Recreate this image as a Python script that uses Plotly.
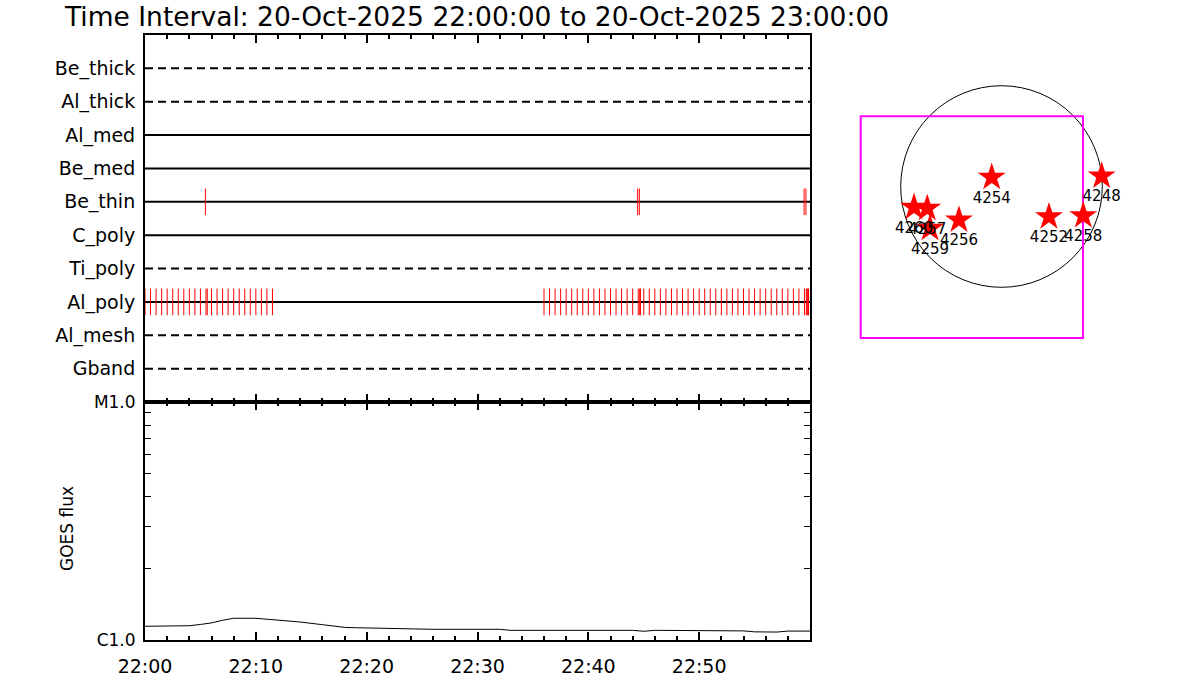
import plotly.graph_objects as go

# ---------------------------------------------------------------------------
# Data
# ---------------------------------------------------------------------------
DAY = "2025-10-20"
T_START = "22:00:00"
T_END = "23:00:00"

ROWS = ["Be_thick", "Al_thick", "Al_med", "Be_med", "Be_thin",
        "C_poly", "Ti_poly", "Al_poly", "Al_mesh", "Gband"]

# detector events per row (HH:MM:SS)
BE_THIN_EVENTS = ["22:05:27", "22:44:27", "22:44:36", "22:59:28", "22:59:38"]

AL_POLY_EVENTS = [
    "22:00:00", "22:00:30", "22:01:00", "22:01:30", "22:02:00", "22:02:30",
    "22:03:00", "22:03:30", "22:04:00", "22:04:30", "22:05:00", "22:05:30",
    "22:05:37", "22:06:00", "22:06:30", "22:07:00", "22:07:30", "22:08:00",
    "22:08:30", "22:09:00", "22:09:30", "22:10:00", "22:10:30", "22:11:00",
    "22:11:30",
    "22:36:00", "22:36:30", "22:37:00", "22:37:30", "22:38:00", "22:38:30",
    "22:39:00", "22:39:30", "22:40:00", "22:40:30", "22:41:00", "22:41:30",
    "22:42:00", "22:42:30", "22:43:00", "22:43:30", "22:44:00", "22:44:30",
    "22:44:38", "22:44:42", "22:45:00", "22:45:30", "22:46:00", "22:46:30",
    "22:47:00", "22:47:30", "22:48:00", "22:48:30", "22:49:00", "22:49:30",
    "22:50:00", "22:50:30", "22:51:00", "22:51:30", "22:52:00", "22:52:30",
    "22:53:00", "22:53:30", "22:54:00", "22:54:30", "22:55:00", "22:55:30",
    "22:56:00", "22:56:30", "22:57:00", "22:57:30", "22:58:00", "22:58:30",
    "22:59:00", "22:59:30", "22:59:40", "22:59:44", "22:59:48", "22:59:52",
]

EVENTS = {"Be_thin": BE_THIN_EVENTS, "Al_poly": AL_POLY_EVENTS}

# GOES long channel flux (W m^-2)
GOES_TIME = ["22:00", "22:03", "22:04", "22:05", "22:06", "22:07", "22:08",
             "22:10", "22:12", "22:14", "22:16", "22:18", "22:19", "22:21",
             "22:22", "22:25", "22:26", "22:32", "22:33", "22:44", "22:45",
             "22:46", "22:49", "22:50", "22:54", "22:55", "22:57", "22:58",
             "23:00"]
GOES_FLUX = [1.142e-6, 1.142e-6, 1.148e-6, 1.162e-6, 1.18e-6, 1.21e-6,
             1.234e-6, 1.234e-6, 1.215e-6, 1.19e-6, 1.16e-6, 1.13e-6,
             1.126e-6, 1.122e-6, 1.12e-6, 1.112e-6, 1.109e-6, 1.109e-6,
             1.098e-6, 1.098e-6, 1.088e-6, 1.098e-6, 1.098e-6, 1.092e-6,
             1.092e-6, 1.082e-6, 1.08e-6, 1.09e-6, 1.09e-6]

GOES_TICKS = [1e-6, 1e-5]
GOES_TICK_TEXT = ["C1.0", "M1.0"]
TIME_TICKS = ["22:00", "22:10", "22:20", "22:30", "22:40", "22:50"]

# active regions (arcsec from disk centre)
AR_NUM = ["4254", "4248", "4260", "4257", "4259", "4256", "4252", "4258"]
AR_X = [-93, 954, -833, -707, -681, -405, 452, 779]
AR_Y = [88, 100, -198, -208, -398, -319, -288, -278]
SUN_RADIUS = 960
FOV_X = [-1341, 776]
FOV_Y = [-1443, 669]

# ---------------------------------------------------------------------------
# Style
# ---------------------------------------------------------------------------
DASHED = {"Be_thick", "Al_thick", "Ti_poly", "Al_mesh", "Gband"}
FONT = "DejaVu Sans"
W, H = 1200, 700


def ts(hms):
    return f"{DAY} {hms}"


def px_x(p):
    return p / W


def px_y(p):
    return 1 - p / H


row_y = {name: len(ROWS) - i for i, name in enumerate(ROWS)}

fig = go.Figure()

# row base lines
for name in ROWS:
    fig.add_trace(go.Scatter(
        x=[ts(T_START), ts(T_END)], y=[row_y[name]] * 2,
        mode="lines", xaxis="x", yaxis="y", showlegend=False,
        line=dict(color="black", width=2,
                  dash="8px,5px" if name in DASHED else "solid"),
    ))

# event ticks
for name, times in EVENTS.items():
    xs, ys = [], []
    for t in times:
        xs += [ts(t), ts(t), None]
        ys += [row_y[name] - 0.4, row_y[name] + 0.4, None]
    fig.add_trace(go.Scatter(
        x=xs, y=ys, mode="lines", xaxis="x", yaxis="y", showlegend=False,
        line=dict(color="red", width=1),
    ))

# GOES curve
fig.add_trace(go.Scatter(
    x=[ts(t + ":00") for t in GOES_TIME], y=GOES_FLUX,
    mode="lines", xaxis="x2", yaxis="y2", showlegend=False,
    line=dict(color="black", width=1),
))

# active regions
fig.add_trace(go.Scatter(
    x=AR_X, y=AR_Y, text=AR_NUM, mode="markers+text",
    xaxis="x3", yaxis="y3", showlegend=False, cliponaxis=False,
    marker=dict(symbol="star", size=21, color="red", line=dict(width=0)),
    textposition="bottom center",
    textfont=dict(family=FONT, size=15, color="black"),
))

fig.add_shape(type="circle", xref="x3", yref="y3",
              x0=-SUN_RADIUS, x1=SUN_RADIUS, y0=-SUN_RADIUS, y1=SUN_RADIUS,
              line=dict(color="black", width=1), layer="below")
fig.add_shape(type="rect", xref="x3", yref="y3",
              x0=FOV_X[0], x1=FOV_X[1], y0=FOV_Y[0], y1=FOV_Y[1],
              line=dict(color="#ff00ff", width=2), layer="below")

time_axis = dict(
    type="date",
    range=[ts(T_START), ts(T_END)],
    showline=True, linecolor="black", linewidth=2, mirror="ticks",
    ticks="inside", ticklen=8, tickwidth=2, tickcolor="black",
    tickmode="array", tickvals=[ts(t + ":00") for t in TIME_TICKS],
    minor=dict(ticks="inside", ticklen=4, tickwidth=2, tickcolor="black",
               dtick=120000, tick0=ts(T_START)),
    showgrid=False, zeroline=False, automargin=False,
)

x_dom = [px_x(145), px_x(810)]

fig.update_layout(
    width=W, height=H, autosize=False,
    paper_bgcolor="white", plot_bgcolor="white",
    margin=dict(l=0, r=0, t=0, b=0, pad=0),
    font=dict(family=FONT, color="black"),
    xaxis=dict(time_axis, domain=x_dom, anchor="y", showticklabels=False,
               matches="x2"),
    yaxis=dict(domain=[px_y(402), px_y(35)], anchor="x", range=[0, 11],
               tickmode="array", tickvals=[row_y[n] for n in ROWS],
               ticktext=ROWS, ticks="", showgrid=False, zeroline=False,
               showline=True, linecolor="black", linewidth=2, mirror=True,
               tickfont=dict(size=19), ticklabelstandoff=4,
               automargin=False),
    xaxis2=dict(time_axis, domain=x_dom, anchor="y2",
                ticktext=TIME_TICKS, tickfont=dict(size=19),
                ticklabelstandoff=8),
    yaxis2=dict(domain=[px_y(640), px_y(402)], anchor="x2", type="log",
                range=[-6, -5], tickmode="array", tickvals=GOES_TICKS,
                ticktext=GOES_TICK_TEXT, tickfont=dict(size=17),
                ticks="inside", ticklen=8, tickwidth=1,
                minor=dict(ticks="inside", ticklen=6, tickwidth=1,
                           tickcolor="black", tickmode="array",
                           tickvals=[k * 1e-6 for k in range(2, 10)]),
                showline=True, linecolor="black", linewidth=2, mirror="ticks",
                showgrid=False, zeroline=False, ticklabelstandoff=4,
                automargin=False),
    xaxis3=dict(domain=[px_x(840), px_x(1140)], anchor="y3",
                range=[-1538.1, 1319.0], visible=False, automargin=False),
    yaxis3=dict(domain=[px_y(340), px_y(40)], anchor="x3",
                range=[-1461.8, 1395.3], visible=False, automargin=False),
    annotations=[
        dict(text="Time Interval: %s %s to %s %s" % (
                 "20-Oct-2025", T_START, "20-Oct-2025", T_END),
             xref="paper", yref="paper", x=px_x(62), y=px_y(16),
             xanchor="left", yanchor="middle", showarrow=False,
             font=dict(size=26.5)),
        dict(text="GOES flux", xref="paper", yref="paper",
             x=px_x(67), y=px_y(529), textangle=-90, showarrow=False,
             xanchor="center", yanchor="middle", font=dict(size=17)),
    ],
)

# drop the default page margin so figure pixels line up with the window
fig.write_html("out.html", config={"displayModeBar": False},
               post_script="document.body.style.margin='0px';")
